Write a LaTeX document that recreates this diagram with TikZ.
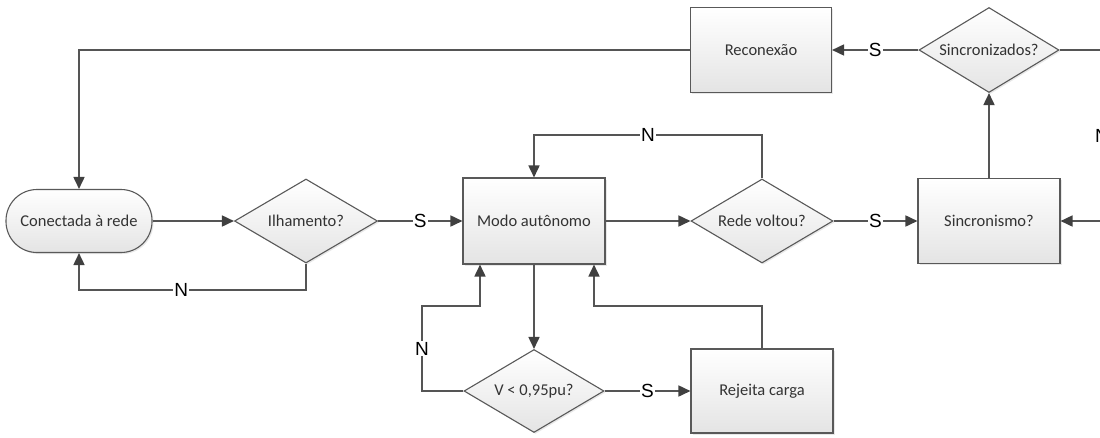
\documentclass[tikz,border=0pt]{standalone}
\usepackage{fontspec}
\setmainfont{Carlito}
\newfontfamily\lblfont{Liberation Sans}
\usetikzlibrary{shapes.geometric,arrows.meta,shadows,calc}

\definecolor{linegray}{HTML}{555555}
\definecolor{edgegray}{HTML}{595959}
\definecolor{txtgray}{HTML}{333333}
\definecolor{fillbot}{HTML}{E4E4E4}
\definecolor{tipgray}{HTML}{404040}

\tikzset{
  shapebase/.style={draw=edgegray, line width=1.1pt, top color=white, bottom color=fillbot,
    text=txtgray, font=\fontsize{16.5}{19}\selectfont, inner sep=0pt,
    drop shadow={opacity=0.18, shadow xshift=1.5pt, shadow yshift=-1.5pt}},
  procbox/.style={shapebase, rectangle, minimum width=142pt, minimum height=85pt},
  decision/.style={shapebase, diamond, aspect=1.7, minimum width=142pt, minimum height=84pt},
  terminal/.style={shapebase, rectangle, rounded corners=31pt, minimum width=146pt, minimum height=63pt},
  flow/.style={draw=linegray, line width=1.7pt, -{Triangle[length=12pt,width=11pt,color=tipgray]}},
  lbl/.style={fill=white, inner sep=1pt, text=black, font=\lblfont\fontsize{19}{21}\selectfont}
}

\begin{document}
\begin{tikzpicture}[x=1pt, y=-1pt]
  \useasboundingbox (0,0) rectangle (1100,437);
  \clip (0,0) rectangle (1100,437);

  % nodes
  \node[terminal] (con) at (79,221) {Conectada à rede};
  \node[decision, minimum width=143pt] (ilh) at (306,221) {Ilhamento?};
  \node[procbox, minimum height=86pt] (modo) at (534,221) {Modo autônomo};
  \node[decision] (rv) at (762,221) {Rede voltou?};
  \node[procbox] (sinc) at (989,221) {Sincronismo?};
  \node[decision, minimum width=140pt, minimum height=85pt] (szd) at (989,50) {Sincronizados?};
  \node[procbox, minimum width=141pt] (rec) at (761,50) {Reconexão};
  \node[decision, minimum width=140pt, minimum height=83pt] (vlow) at (534,391) {V < 0,95pu?};
  \node[procbox, minimum height=84pt] (rej) at (762,391) {Rejeita carga};

  % corners of the loops
  \coordinate (rtop) at (1102,50);
  \coordinate (rbot) at (1102,221);
  \coordinate (nleftlow) at (422,391);
  \coordinate (nlefthigh) at (422,306);
  \coordinate (nin) at ($(modo.south)+(-54,0)$);
  \coordinate (rin) at ($(modo.south)+(60,0)$);

  % connectors
  \draw[flow] (rec.west) -| (con.north);
  \draw[flow] (con.east) -- (ilh.west);
  \draw[flow] (ilh.south) -- (ilh.south |- 0,290) -- node[lbl, pos=0.55]{N} (con.south |- 0,290) -- (con.south);
  \draw[flow] (ilh.east) -- node[lbl]{S} (modo.west);
  \draw[flow] (modo.east) -- (rv.west);
  \draw[flow] (rv.north) -- (rv.north |- 0,135) -- node[lbl]{N} (modo.north |- 0,135) -- (modo.north);
  \draw[flow] (rv.east) -- node[lbl]{S} (sinc.west);
  \draw[flow] (sinc.north) -- (szd.south);
  \draw[flow] (szd.west) -- node[lbl]{S} (rec.east);
  \draw[flow] (szd.east) -- (rtop) -- node[lbl]{N} (rbot) -- (sinc.east);
  \draw[flow] (modo.south) -- (vlow.north);
  \draw[flow] (vlow.west) -- (nleftlow) -- node[lbl]{N} (nlefthigh) -| (nin);
  \draw[flow] (vlow.east) -- node[lbl]{S} (rej.west);
  \draw[flow] (rej.north) -- (rej.north |- 0,306) -| (rin);
\end{tikzpicture}
\end{document}
